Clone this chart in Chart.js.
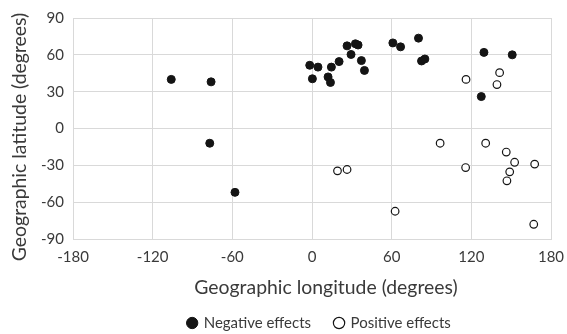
<!DOCTYPE html>
<html>
<head>
<meta charset="utf-8">
<script src="https://cdn.jsdelivr.net/npm/chart.js@4/dist/chart.umd.min.js"></script>
<style>
  html, body { margin: 0; padding: 0; background: #ffffff; }
  #wrap { width: 567px; height: 334px; }
</style>
</head>
<body>
<div id="wrap"><canvas id="c" width="567" height="334"></canvas></div>
<script>
// Study sites: geographic position (longitude, latitude in degrees)
const negativeLon = [-106, -76, -77, -58, -1.7, 4.5, 0.3, 12.1, 13.9, 14.6, 20.4, 26.4, 29.4, 32.7, 34.7, 37.2, 39.5, 60.9, 66.7, 80.2, 82.5, 85, 129.5, 150.8, 127.5];
const negativeLat = [40, 38, -12, -52, 51.5, 50, 40.5, 42, 37.5, 50, 54.5, 67.3, 60.3, 69, 68, 55.3, 47.3, 69.7, 66.5, 73.6, 55, 56.6, 62, 60, 26];
const positiveLon = [116, 141.3, 139.3, 96.5, 130.8, 146.3, 152.6, 167.7, 19.2, 26.4, 115.7, 148.9, 146.8, 62.6, 167];
const positiveLat = [40, 45.5, 35.8, -12, -12, -19.2, -27.5, -29, -34.5, -33.4, -31.8, -35.3, -42.6, -67.4, -78];
const seriesNames = ['Negative effects', 'Positive effects'];
const lonTicks = [-180, -120, -60, 0, 60, 120, 180];
const latTicks = [-90, -60, -30, 0, 30, 60, 90];
const xTitle = 'Geographic longitude (degrees)';
const yTitle = 'Geographic latitude (degrees)';

const toPoints = (xs, ys) => xs.map((x, i) => ({ x: x, y: ys[i] }));

const FONT = 'Lato, "Liberation Sans", sans-serif';
const TEXT = '#3a3a3a';
const GRID = '#d9d9d9';

// fixed legend height, and the legend row centred under the plot area
const legendPlace = {
  id: 'legendPlace',
  beforeInit(chart) {
    const orig = chart.legend.fit;
    chart.legend.fit = function () {
      orig.call(this);
      this.height = 42.5;
    };
  },
  afterLayout(chart) {
    const lg = chart.legend;
    lg.left += 44; lg.right += 44;
  }
};

// axis titles, placed relative to the chart area
const axisTitles = {
  id: 'axisTitles',
  afterDraw(chart) {
    const ctx = chart.ctx;
    const a = chart.chartArea;
    ctx.save();
    ctx.fillStyle = TEXT;
    ctx.font = '19.4px ' + FONT;
    ctx.textAlign = 'center';
    ctx.textBaseline = 'middle';
    ctx.fillText(xTitle, (a.left + a.right) / 2 + 14, a.bottom + 49);
    ctx.translate(20, (a.top + a.bottom) / 2 + 8.5);
    ctx.rotate(-Math.PI / 2);
    ctx.fillText(yTitle, 0, 0);
    ctx.restore();
  }
};

new Chart(document.getElementById('c'), {
  type: 'scatter',
  data: {
    datasets: [
      {
        label: seriesNames[0],
        data: toPoints(negativeLon, negativeLat),
        pointStyle: 'circle',
        pointRadius: 4,
        pointHoverRadius: 4,
        backgroundColor: '#141414',
        borderColor: '#141414',
        borderWidth: 1
      },
      {
        label: seriesNames[1],
        data: toPoints(positiveLon, positiveLat),
        pointStyle: 'circle',
        pointRadius: 3.8,
        pointHoverRadius: 3.8,
        backgroundColor: '#ffffff',
        borderColor: '#141414',
        borderWidth: 1.2
      }
    ]
  },
  options: {
    responsive: false,
    animation: false,
    layout: { padding: { top: 8, right: 16, bottom: 0, left: 0 } },
    scales: {
      x: {
        type: 'linear',
        min: -180,
        max: 180,
        afterBuildTicks(scale) { scale.ticks = lonTicks.map(v => ({ value: v })); },
        afterFit(scale) {
          scale.height = 52.5;
          scale.paddingLeft = 0;
          scale.paddingRight = 0;
        },
        grid: { color: GRID, lineWidth: 1, drawTicks: false },
        border: { color: GRID, width: 1 },
        ticks: { color: TEXT, font: { family: FONT, size: 15 }, padding: 9, maxRotation: 0 },
        title: { display: false }
      },
      y: {
        type: 'linear',
        min: -90,
        max: 90,
        afterBuildTicks(scale) { scale.ticks = latTicks.map(v => ({ value: v })); },
        afterFit(scale) { scale.width = 73; },
        grid: { color: GRID, lineWidth: 1, drawTicks: false },
        border: { color: GRID, width: 1 },
        ticks: { color: TEXT, font: { family: FONT, size: 15 }, padding: 9 },
        title: { display: false }
      }
    },
    plugins: {
      tooltip: { enabled: false },
      legend: {
        position: 'bottom',
        labels: {
          usePointStyle: true,
          pointStyle: 'circle',
          boxHeight: 8,
          boxWidth: 8,
          padding: 24,
          color: TEXT,
          font: { family: FONT, size: 15 }
        }
      }
    }
  },
  plugins: [legendPlace, axisTitles]
});
</script>
</body>
</html>
